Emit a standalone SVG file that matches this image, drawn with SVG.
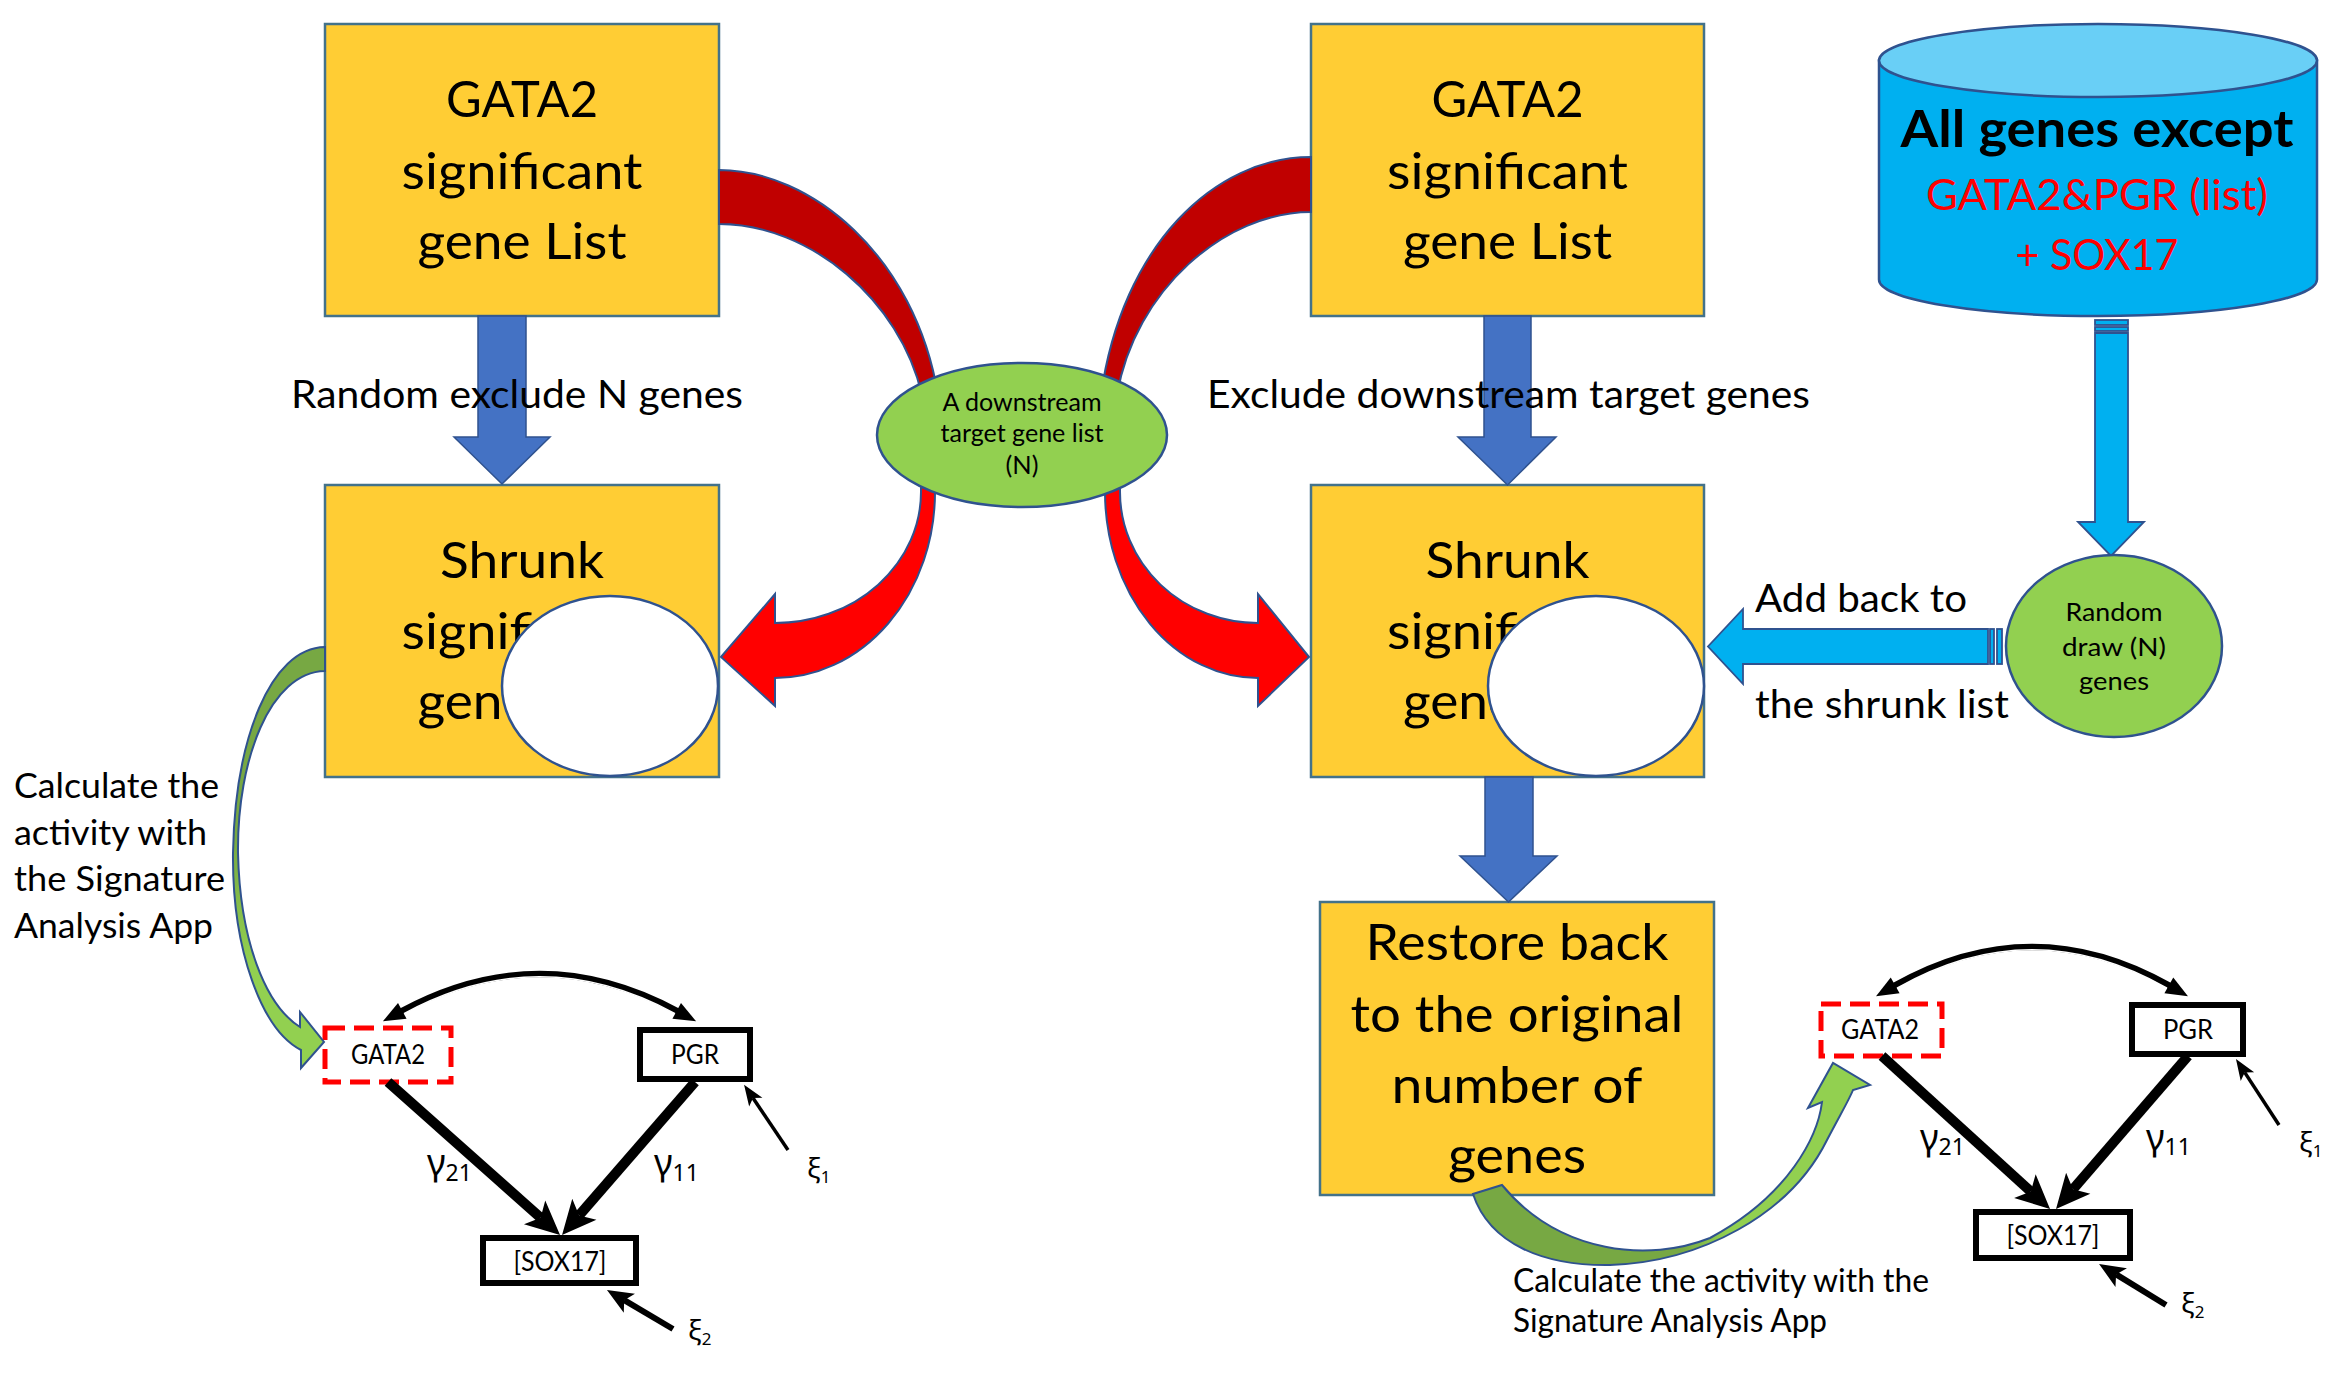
<svg xmlns="http://www.w3.org/2000/svg" width="2340" height="1373" viewBox="0 0 2340 1373">
<defs>
<style>
.box{fill:#FFCD34;stroke:#43728A;stroke-width:2.5}
.hole{fill:#fff;stroke:#2F528F;stroke-width:2.5}
.oval{fill:#92D050;stroke:#2F528F;stroke-width:2.5}
.blk{fill:#4472C4;stroke:#2F528F;stroke-width:1.5}
.sky{fill:#00B0F0;stroke:#2F528F;stroke-width:1.8}
.dred{fill:#C00000;stroke:#2F528F;stroke-width:2}
.bred{fill:#FF0000;stroke:#2F528F;stroke-width:2}
.grn{stroke:#2F528F;stroke-width:2}
text{font-family:Lato,"Open Sans","Liberation Sans",sans-serif;fill:#000}
.big{font-size:51px;text-anchor:middle}
.lbl{font-size:39px}
.ov{font-size:25px;text-anchor:middle}
.sem{font-size:26px;text-anchor:middle}
.greek{font-family:"Noto Sans","DejaVu Sans",sans-serif}
.sbox{fill:#fff;stroke:#000;stroke-width:6}
.dash{fill:#fff;stroke:#FF0000;stroke-width:5;stroke-dasharray:20 9}
.thick{fill:none;stroke:#000;stroke-width:10}
.thin{fill:none;stroke:#000;stroke-width:3.5}
.med{fill:none;stroke:#000;stroke-width:6}
.arc{fill:none;stroke:#000;stroke-width:6.5}
.arcgap{fill:none;stroke:#fff;stroke-width:1.6}
</style>
<marker id="hd" markerUnits="userSpaceOnUse" viewBox="-10 -18 40 36" markerWidth="40" markerHeight="36" refX="0" refY="0" orient="auto"><path d="M26,0 L-8,-16 L0,0 L-8,16 Z" fill="#000"/></marker>
<marker id="hs" markerUnits="userSpaceOnUse" viewBox="-6 -9 24 18" markerWidth="24" markerHeight="18" refX="0" refY="0" orient="auto"><path d="M16,0 L-5,-8 L0,0 L-5,8 Z" fill="#000"/></marker>
<marker id="hm" markerUnits="userSpaceOnUse" viewBox="-7 -12 29 24" markerWidth="29" markerHeight="24" refX="0" refY="0" orient="auto"><path d="M20,0 L-6,-11 L0,0 L-6,11 Z" fill="#000"/></marker>
<marker id="hd2" markerUnits="userSpaceOnUse" viewBox="-2 -10 25 20" markerWidth="25" markerHeight="20" refX="0" refY="0" orient="auto-start-reverse"><path d="M21,0 L-1,-9 L-1,9 Z" fill="#000"/></marker>
<linearGradient id="gLeft" gradientUnits="userSpaceOnUse" x1="0" y1="647" x2="0" y2="1070">
<stop offset="0" stop-color="#77A843"/><stop offset="0.45" stop-color="#77A843"/><stop offset="0.75" stop-color="#92D050"/><stop offset="1" stop-color="#92D050"/>
</linearGradient>
<linearGradient id="gRight" gradientUnits="userSpaceOnUse" x1="1473" y1="0" x2="1870" y2="0">
<stop offset="0" stop-color="#77A843"/><stop offset="0.52" stop-color="#77A843"/><stop offset="0.64" stop-color="#92D050"/><stop offset="1" stop-color="#92D050"/>
</linearGradient>
</defs>
<rect width="2340" height="1373" fill="#fff"/>

<!-- list boxes -->
<g id="gata2-list-left">
<rect class="box" x="325" y="24" width="394" height="292"/>
<text class="big" x="522" y="117" textLength="152" lengthAdjust="spacingAndGlyphs">GATA2</text>
<text class="big" x="522" y="189" textLength="241" lengthAdjust="spacingAndGlyphs">significant</text>
<text class="big" x="522" y="259" textLength="209" lengthAdjust="spacingAndGlyphs">gene List</text>
</g>
<g id="gata2-list-mid">
<rect class="box" x="1311" y="24" width="393" height="292"/>
<text class="big" x="1507.5" y="117" textLength="152" lengthAdjust="spacingAndGlyphs">GATA2</text>
<text class="big" x="1507.5" y="189" textLength="241" lengthAdjust="spacingAndGlyphs">significant</text>
<text class="big" x="1507.5" y="259" textLength="209" lengthAdjust="spacingAndGlyphs">gene List</text>
</g>
<g id="shrunk-left">
<rect class="box" x="325" y="485" width="394" height="292"/>
<text class="big" x="522" y="578" textLength="164" lengthAdjust="spacingAndGlyphs">Shrunk</text>
<text class="big" x="522" y="649" textLength="241" lengthAdjust="spacingAndGlyphs">significant</text>
<text class="big" x="522" y="719" textLength="209" lengthAdjust="spacingAndGlyphs">gene List</text>
<ellipse class="hole" cx="610" cy="686" rx="108" ry="90"/>
</g>
<g id="shrunk-mid">
<rect class="box" x="1311" y="485" width="393" height="292"/>
<text class="big" x="1507.5" y="578" textLength="164" lengthAdjust="spacingAndGlyphs">Shrunk</text>
<text class="big" x="1507.5" y="649" textLength="241" lengthAdjust="spacingAndGlyphs">significant</text>
<text class="big" x="1507.5" y="719" textLength="209" lengthAdjust="spacingAndGlyphs">gene List</text>
<ellipse class="hole" cx="1596" cy="686" rx="108" ry="90"/>
</g>
<g id="restore">
<rect class="box" x="1320" y="902" width="394" height="293"/>
<text class="big" x="1517" y="960" textLength="303" lengthAdjust="spacingAndGlyphs">Restore back</text>
<text class="big" x="1517" y="1032" textLength="333" lengthAdjust="spacingAndGlyphs">to the original</text>
<text class="big" x="1517" y="1103" textLength="251" lengthAdjust="spacingAndGlyphs">number of</text>
<text class="big" x="1517" y="1173" textLength="138" lengthAdjust="spacingAndGlyphs">genes</text>
</g>
<g id="all-genes">
<path d="M1879,60.5 L1879,279.5 A219,36.5 0 0 0 2317,279.5 L2317,60.5 Z" fill="#00B0F0" stroke="#2F528F" stroke-width="2.5"/>
<ellipse cx="2098" cy="60.5" rx="219" ry="36.5" fill="#69CFF6" stroke="#2F528F" stroke-width="2.5"/>
<text x="2097" y="147" font-size="52" font-weight="bold" text-anchor="middle" textLength="393" lengthAdjust="spacingAndGlyphs">All genes except</text>
<text x="2097" y="210" font-size="43" style="fill:#FF0000" text-anchor="middle" textLength="342" lengthAdjust="spacingAndGlyphs">GATA2&amp;PGR (list)</text>
<text x="2097" y="270" font-size="43" style="fill:#FF0000" text-anchor="middle" textLength="163" lengthAdjust="spacingAndGlyphs">+ SOX17</text>
</g>

<!-- path model boxes -->
<g id="sem-gata2-left"><rect class="dash" x="325" y="1028" width="126" height="54"/><text class="sem" x="388" y="1064" textLength="74" lengthAdjust="spacingAndGlyphs">GATA2</text></g>
<g id="sem-pgr-left"><rect class="sbox" x="640" y="1030" width="110" height="49"/><text class="sem" x="695" y="1064" textLength="48" lengthAdjust="spacingAndGlyphs">PGR</text></g>
<g id="sem-sox17-left"><rect class="sbox" x="483" y="1238" width="153" height="45"/><text class="sem" x="560" y="1271" textLength="93" lengthAdjust="spacingAndGlyphs">[SOX17]</text></g>
<g id="sem-gata2-right"><rect class="dash" x="1821" y="1004" width="121" height="52"/><text class="sem" x="1880" y="1039" textLength="78" lengthAdjust="spacingAndGlyphs">GATA2</text></g>
<g id="sem-pgr-right"><rect class="sbox" x="2132" y="1005" width="111" height="49"/><text class="sem" x="2188" y="1039" textLength="50" lengthAdjust="spacingAndGlyphs">PGR</text></g>
<g id="sem-sox17-right"><rect class="sbox" x="1976" y="1212" width="154" height="46"/><text class="sem" x="2053" y="1245" textLength="93" lengthAdjust="spacingAndGlyphs">[SOX17]</text></g>

<!-- connectors -->
<g id="connectors">
<path class="blk" d="M478,316 L526,316 L526,437 L550,437 L502,484 L454,437 L478,437 Z"/>
<path class="blk" d="M1484,316 L1531,316 L1531,437 L1556,437 L1507.5,485 L1458,437 L1484,437 Z"/>
<path class="blk" d="M1485,777 L1533,777 L1533,856 L1557,856 L1508.5,902 L1460,856 L1485,856 Z"/>
<rect class="sky" x="2095" y="320" width="33" height="5"/>
<rect class="sky" x="2095" y="327" width="33" height="4"/>
<path class="sky" d="M2095,333 L2128,333 L2128,522 L2144,522 L2111,556 L2078,522 L2095,522 Z"/>
<rect class="sky" x="1997" y="629" width="5" height="35"/>
<rect class="sky" x="1990" y="629" width="4" height="35"/>
<path class="sky" d="M1988,629 L1988,664 L1743,664 L1743,684 L1708,646.5 L1743,609 L1743,629 Z"/>
<path class="dred" d="M719,170 C810,170 915,255 938,395 L922,395 C900,300 810,224 719,224 Z"/>
<path class="dred" d="M1311,157 C1215,157 1122,245 1101,395 L1117,395 C1135,290 1225,212 1311,212 Z"/>
<path class="bred" d="M921,470 L921,492 A146,131 0 0 1 775,623 L775,594 L721,657 L775,706 L775,678 A160,186 0 0 0 935,492 L935,470 Z"/>
<path class="bred" d="M1120,470 L1120,492 A138,131 0 0 0 1258,623 L1258,594 L1309,657 L1258,706 L1258,678 A153,186 0 0 1 1105,492 L1105,470 Z"/>
<path class="grn" fill="url(#gLeft)" d="M325,647 C270,648 235,740 233,853 C232,950 262,1030 301,1050 L301,1068 L324,1042 L300,1012 L300,1027 C265,1005 240,940 238,853 C237,760 270,672 325,671 Z"/>
<path class="grn" fill="url(#gRight)" d="M1473,1194 C1490,1245 1545,1266 1610,1265 C1700,1262 1790,1215 1827,1140 C1840,1115 1849,1100 1853,1090 L1870,1085 L1833,1063 L1808,1108 L1822,1102 C1818,1135 1790,1195 1710,1238 C1650,1262 1560,1255 1502,1185 Z"/>
<!-- left path model -->
<path class="arc" d="M401.4,1011.3 Q539.5,936.7 677.6,1011.3" marker-start="url(#hd2)" marker-end="url(#hd2)"/>
<path class="arcgap" d="M404,1013.6 Q539.5,940 675,1013.6"/>
<path class="thick" d="M388,1082 L540.6,1217.7" marker-end="url(#hd)"/>
<path class="thick" d="M695,1082 L579.1,1215.4" marker-end="url(#hd)"/>
<path class="thin" d="M788,1150 L753,1098" marker-end="url(#hs)"/>
<path class="med" d="M673,1329 L624.2,1300.2" marker-end="url(#hm)"/>
<!-- right path model -->
<path class="arc" d="M1894.3,985.9 Q2032,908.1 2169.7,985.9" marker-start="url(#hd2)" marker-end="url(#hd2)"/>
<path class="arcgap" d="M1897,988.2 Q2032,911.4 2167,988.2"/>
<path class="thick" d="M1882,1056 L2030.8,1191.5" marker-end="url(#hd)"/>
<path class="thick" d="M2188,1056 L2073,1189.3" marker-end="url(#hd)"/>
<path class="thin" d="M2279,1125 L2244.7,1072.4" marker-end="url(#hs)"/>
<path class="med" d="M2166,1305 L2116.1,1274.4" marker-end="url(#hm)"/>
</g>

<!-- gene set ovals -->
<g id="downstream-list">
<ellipse class="oval" cx="1022" cy="435" rx="145" ry="72"/>
<text class="ov" x="1022" y="411" textLength="159" lengthAdjust="spacingAndGlyphs">A downstream</text>
<text class="ov" x="1022" y="442" textLength="163" lengthAdjust="spacingAndGlyphs">target gene list</text>
<text class="ov" x="1022" y="474" textLength="33" lengthAdjust="spacingAndGlyphs">(N)</text>
</g>
<g id="random-draw">
<ellipse class="oval" cx="2114" cy="646" rx="108" ry="91"/>
<text class="ov" x="2114" y="621" textLength="97" lengthAdjust="spacingAndGlyphs">Random</text>
<text class="ov" x="2114" y="656" textLength="104" lengthAdjust="spacingAndGlyphs">draw (N)</text>
<text class="ov" x="2114" y="690" textLength="70" lengthAdjust="spacingAndGlyphs">genes</text>
</g>

<!-- step labels -->
<g id="labels">
<text class="lbl" x="291" y="408" textLength="452" lengthAdjust="spacingAndGlyphs">Random exclude N genes</text>
<text class="lbl" x="1207" y="408" textLength="603" lengthAdjust="spacingAndGlyphs">Exclude downstream target genes</text>
<text class="lbl" x="1755" y="612" textLength="212" lengthAdjust="spacingAndGlyphs">Add back to</text>
<text class="lbl" x="1755" y="718" textLength="254" lengthAdjust="spacingAndGlyphs">the shrunk list</text>
<text x="14" y="798" font-size="35" textLength="205" lengthAdjust="spacingAndGlyphs">Calculate the</text>
<text x="14" y="845" font-size="35" textLength="193" lengthAdjust="spacingAndGlyphs">activity with</text>
<text x="14" y="891" font-size="35" textLength="211" lengthAdjust="spacingAndGlyphs">the Signature</text>
<text x="14" y="938" font-size="35" textLength="199" lengthAdjust="spacingAndGlyphs">Analysis App</text>
<text x="1513" y="1292" font-size="32" textLength="416" lengthAdjust="spacingAndGlyphs">Calculate the activity with the</text>
<text x="1513" y="1332" font-size="32" textLength="314" lengthAdjust="spacingAndGlyphs">Signature Analysis App</text>
<text class="greek" x="427" y="1175" font-size="36">γ<tspan font-size="23" dy="6">21</tspan></text>
<text class="greek" x="654" y="1175" font-size="36">γ<tspan font-size="23" dy="6">11</tspan></text>
<text class="greek" x="807" y="1178" font-size="28">ξ<tspan font-size="17" dy="5">1</tspan></text>
<text class="greek" x="688" y="1340" font-size="28">ξ<tspan font-size="17" dy="5">2</tspan></text>
<text class="greek" x="1920" y="1150" font-size="36">γ<tspan font-size="23" dy="5">21</tspan></text>
<text class="greek" x="2146" y="1150" font-size="36">γ<tspan font-size="23" dy="5">11</tspan></text>
<text class="greek" x="2299" y="1152" font-size="28">ξ<tspan font-size="17" dy="5">1</tspan></text>
<text class="greek" x="2181" y="1313" font-size="28">ξ<tspan font-size="17" dy="5">2</tspan></text>
</g>
</svg>
